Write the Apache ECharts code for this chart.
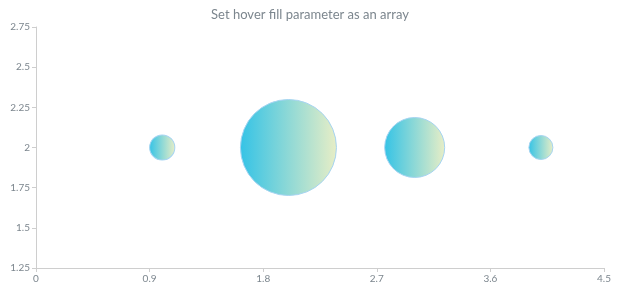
<!DOCTYPE html>
<html>
<head>
<meta charset="utf-8">
<script src="https://cdn.jsdelivr.net/npm/echarts@6/dist/echarts.min.js"></script>
<style>html,body{margin:0;padding:0;background:#fff;}#c{width:620px;height:300px;}</style>
</head>
<body>
<div id="c"></div>
<script>
var titleText = 'Set hover fill parameter as an array';
var xValues = [1, 2, 3, 4];
var yValues = [2, 2, 2, 2];
var sizeValues = [10.5, 40, 25, 10];
var xTicks = [0, 0.9, 1.8, 2.7, 3.6, 4.5];
var yTicks = [1.25, 1.5, 1.75, 2, 2.25, 2.5, 2.75];

var minS = Math.min.apply(null, sizeValues), maxS = Math.max.apply(null, sizeValues);
var minD = 24, maxD = 96;
function diam(v){ return minD + (v - minS) / (maxS - minS) * (maxD - minD); }

var data = xValues.map(function(x, i){ return [x, yValues[i], sizeValues[i]]; });
var font = 'Lato, "Open Sans", sans-serif';
var chart = echarts.init(document.getElementById('c'), null, {renderer: 'canvas'});
chart.setOption({
  animation: false,
  backgroundColor: '#ffffff',
  title: {
    text: titleText, left: 'center', top: 3,
    textStyle: {color: '#7c868e', fontSize: 13, fontWeight: 'normal', fontFamily: font}
  },
  grid: {left: 36, right: 16, top: 27, bottom: 32, containLabel: false},
  xAxis: {
    type: 'value', min: xTicks[0], max: xTicks[xTicks.length-1], interval: 0.9,
    axisLine: {show: true, lineStyle: {color: '#cecece', width: 1}},
    axisTick: {show: true, length: 4, lineStyle: {color: '#cecece'}},
    axisLabel: {color: '#7c868e', fontSize: 10, fontFamily: font, margin: 6},
    splitLine: {show: false}
  },
  yAxis: {
    type: 'value', min: yTicks[0], max: yTicks[yTicks.length-1], interval: 0.25,
    axisLine: {show: true, lineStyle: {color: '#cecece', width: 1}},
    axisTick: {show: true, length: 4, lineStyle: {color: '#cecece'}},
    axisLabel: {color: '#7c868e', fontSize: 10, fontFamily: font, margin: 6},
    splitLine: {show: false}
  },
  series: [{
    type: 'scatter',
    data: data,
    symbolSize: function(d){ return diam(d[2]); },
    itemStyle: {
      color: new echarts.graphic.LinearGradient(0, 0, 1, 0, [
        {offset: 0, color: '#34c3e6'},
        {offset: 1, color: '#e8eec6'}
      ]),
      borderColor: '#a6d4f2',
      borderWidth: 1,
      opacity: 1
    }
  }]
});
</script>
</body>
</html>
